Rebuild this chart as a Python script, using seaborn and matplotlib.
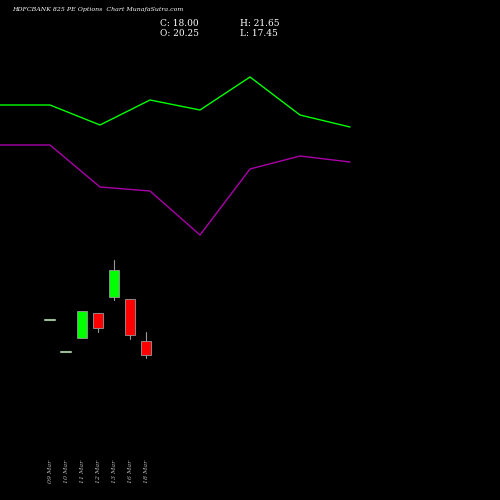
import numpy as np
import matplotlib
matplotlib.use("Agg")
import matplotlib.pyplot as plt
import seaborn as sns

dates = ["09 Mar", "10 Mar", "11 Mar", "12 Mar", "13 Mar", "16 Mar", "18 Mar"]
opens = [23.63, 18.48, 20.73, 24.75, 27.32, 27.00, 20.25]
closes = [23.63, 18.48, 25.07, 22.34, 31.66, 21.21, 18.00]
highs = [23.63, 18.48, 25.07, 24.75, 33.27, 27.00, 21.65]
lows = [23.63, 18.48, 20.73, 21.70, 26.84, 20.57, 17.45]

# indicator lines (upper panel, inverted pixel-like scale)
line_x = [0, 50, 100, 150, 200, 250, 300, 350]
green_line = [105, 105, 125, 100, 110, 77, 115, 127]
purple_line = [145, 145, 187, 191, 235, 169, 156, 162]

sns.set_theme(style="dark")
fig = plt.figure(figsize=(5, 5), dpi=100, facecolor="black")

ax_l = fig.add_axes([0, 0, 1, 1])
ax_l.set_facecolor("black")
sns.lineplot(x=line_x, y=green_line, ax=ax_l, color="#00ff00", linewidth=1)
sns.lineplot(x=line_x, y=purple_line, ax=ax_l, color="#aa00aa", linewidth=1)
ax_l.set_xlim(0, 500)
ax_l.set_ylim(500, 0)
ax_l.axis("off")

ax = fig.add_axes([0, 0, 1, 1])
ax.patch.set_alpha(0)
ax.set_xlim(-3.125, 28.125)
ax.set_ylim(-5.3, 75.05)
ax.axis("off")
for i, (o, c, h, l) in enumerate(zip(opens, closes, highs, lows)):
    ax.text(i, -0.7, dates[i], rotation=90, color="#bbbbbb", fontsize=4.5,
            family="serif", style="italic", ha="center", va="center")
    if o == c:
        ax.plot([i - 0.3, i + 0.3], [o, o], color="#99bb99", linewidth=1.5)
        continue
    col = "#00ff00" if c > o else "#ff0000"
    ax.plot([i, i], [l, h], color="#999999", linewidth=0.8, zorder=1)
    ax.bar(i, abs(c - o), bottom=min(o, c), width=0.6, color=col,
           edgecolor="#999999", linewidth=0.6, zorder=2)

fig.text(0.024, 0.985, "HDFCBANK 825 PE Options  Chart MunafaSutra.com", color="white",
         fontsize=4.5, family="serif", style="italic", va="top")
fig.text(0.32, 0.962, "C: 18.00", color="white", fontsize=6.5, family="serif", va="top")
fig.text(0.32, 0.943, "O: 20.25", color="white", fontsize=6.5, family="serif", va="top")
fig.text(0.48, 0.962, "H: 21.65", color="white", fontsize=6.5, family="serif", va="top")
fig.text(0.48, 0.943, "L: 17.45", color="white", fontsize=6.5, family="serif", va="top")

fig.savefig("out.png", facecolor="black")
